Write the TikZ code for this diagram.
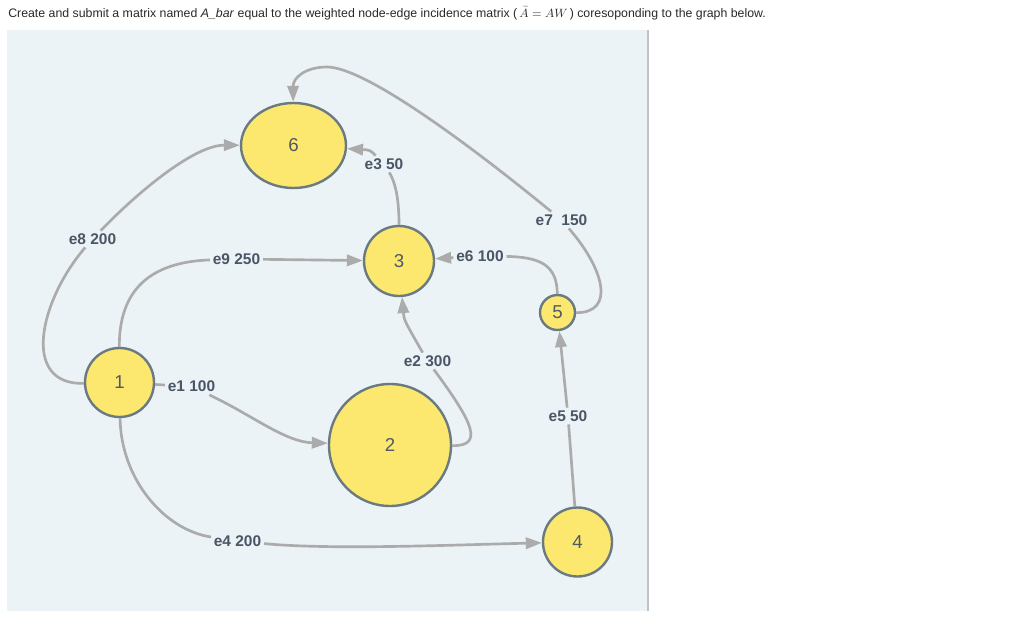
\documentclass[tikz,border=0pt]{standalone}
\usepackage{fontspec}
\setmainfont{Liberation Sans}
\usetikzlibrary{shapes.geometric,arrows.meta}
\definecolor{panel}{RGB}{235,243,247}
\definecolor{panelborder}{RGB}{190,195,198}
\definecolor{nodefill}{RGB}{252,231,111}
\definecolor{nodeline}{RGB}{107,122,128}
\definecolor{edgecol}{RGB}{171,171,171}
\definecolor{labtxt}{RGB}{74,85,102}
\definecolor{numtxt}{RGB}{80,90,100}
\definecolor{hdr}{RGB}{40,40,40}
\begin{document}
\begin{tikzpicture}[x=0.75pt,y=-0.75pt,
  vtx/.style={circle, draw=nodeline, line width=1.8pt, fill=nodefill, inner sep=0pt,
    font=\fontsize{14}{16}\selectfont, text=numtxt},
  elab/.style={font=\bfseries\fontsize{11.6}{13}\selectfont, text=labtxt, inner sep=2pt},
  edge/.style={draw=edgecol, line width=2pt, -{Triangle[length=12pt,width=8.5pt]}}]
\useasboundingbox (0,0) rectangle (1024,621);
\fill[panel] (7,30) rectangle (648,611);
\draw[panelborder, line width=0.8pt] (648,30) -- (648,611);
\node[anchor=base west, inner sep=0pt, text=hdr, font=\fontsize{9.25}{11}\selectfont] (title) at (8,17)
  {Create and submit a matrix named \textit{A\_bar} equal to the weighted node-edge incidence matrix (\,$\bar{A}=AW$\,) coresoponding to the graph below.};

% vertices
\node[vtx, minimum size=51.75pt] (n1) at (119.5,382.5) {1};
\node[vtx, minimum size=91.5pt] (n2) at (390,445) {2};
\node[vtx, minimum size=52.5pt] (n3) at (399,261) {3};
\node[vtx, minimum size=51.75pt] (n4) at (577.5,542) {4};
\node[vtx, minimum size=26.25pt] (n5) at (557.5,312.5) {5};
\node[vtx, ellipse, minimum width=78.75pt, minimum height=63.75pt] (n6) at (293.5,145.5) {6};

% edge labels
\node[elab] (l1) at (191.5,386.5) {e1 100};
\node[elab] (l2) at (427.5,361) {e2 300};
\node[elab] (l3) at (384,164) {e3 50};
\node[elab] (l4) at (237.5,541) {e4 200};
\node[elab] (l5) at (568,416) {e5 50};
\node[elab] (l6) at (480,256) {e6 100};
\node[elab] (l7) at (561.5,220) {e7\ \ 150};
\node[elab] (l8) at (92.5,239) {e8 200};
\node[elab] (l9) at (236.5,259) {e9 250};
\coordinate (w7) at (327,67);

% edges
\draw[edge] (n1) -- (l1) (l1) .. controls (252,415) and (285,442) .. (n2);
\draw[edge] (n2) .. controls (483,446) and (475,425) .. (l2) (l2) .. controls (404,320) .. (n3);
\draw[edge] (n3) .. controls (399,205) and (397,185) .. (l3) (l3) .. controls (370,150) .. (n6);
\draw[edge] (n1) .. controls (121,480) and (165,530) .. (l4) (l4) .. controls (330,550) and (450,545) .. (n4);
\draw[edge] (n4) -- (l5) (l5) -- (n5);
\draw[edge] (n5) .. controls (557,265) and (540,257) .. (l6) (l6) -- (n3);
\draw[edge] (n5) .. controls (615,313) and (605,270) .. (l7)
  (l7) .. controls (470,145) and (365,67) .. (w7) .. controls (305,67) and (293,78) .. (n6);
\draw[edge] (n1) .. controls (20,385) and (40,300) .. (l8) (l8) .. controls (140,190) and (195,145) .. (n6);
\draw[edge] (n1) .. controls (119,290) and (150,262) .. (l9) (l9) -- (n3);
\end{tikzpicture}
\end{document}
